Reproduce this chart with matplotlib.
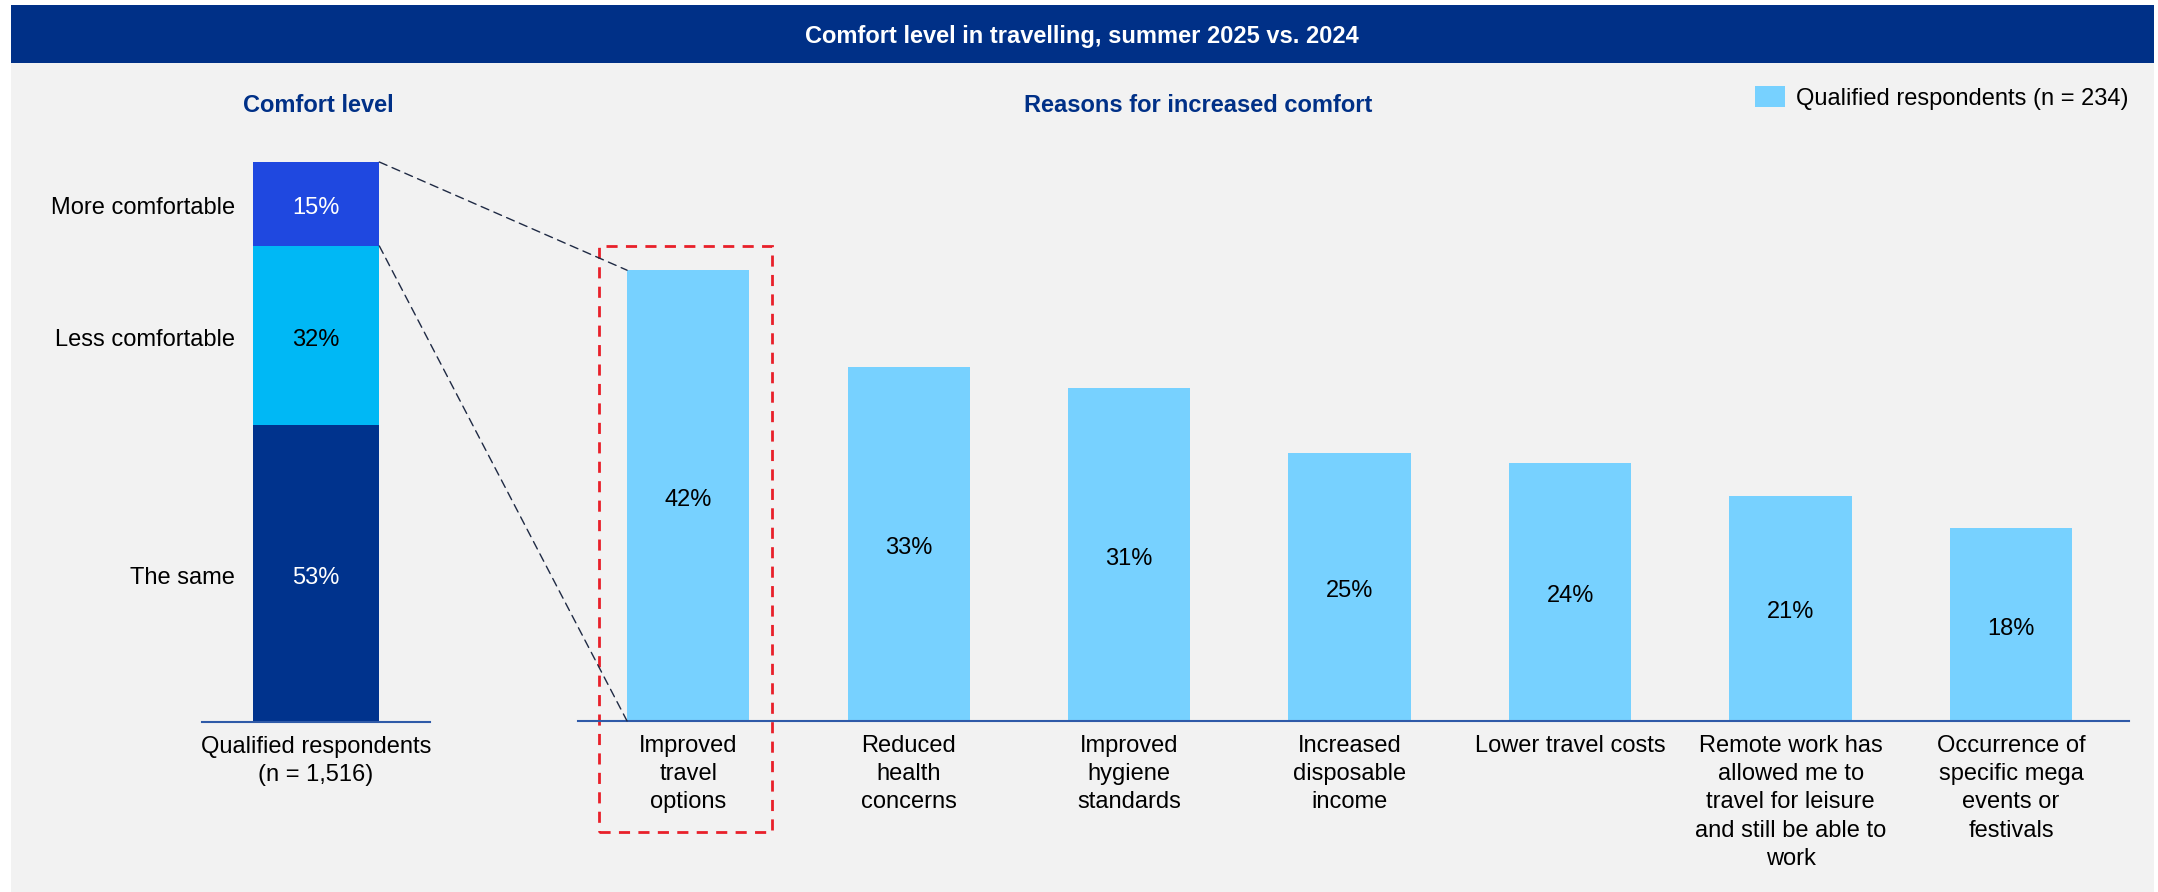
import matplotlib
matplotlib.use("Agg")
import matplotlib.pyplot as plt
from matplotlib.patches import Rectangle, ConnectionPatch

plt.rcParams['font.family'] = ['Liberation Sans', 'DejaVu Sans']

# Comfort level split (stacked, bottom to top)
comfort_levels = ['The same', 'Less comfortable', 'More comfortable']
comfort_values = [53, 32, 15]
comfort_colors = ['#00338D', '#00B8F5', '#1F48E0']
comfort_text_colors = ['white', 'black', 'white']
comfort_base_label = 'Qualified respondents\n(n = 1,516)'

# Reasons for increased comfort
reasons = [
    'Improved\ntravel\noptions',
    'Reduced\nhealth\nconcerns',
    'Improved\nhygiene\nstandards',
    'Increased\ndisposable\nincome',
    'Lower travel costs',
    'Remote work has\nallowed me to\ntravel for leisure\nand still be able to\nwork',
    'Occurrence of\nspecific mega\nevents or\nfestivals',
]
reason_values = [42, 33, 31, 25, 24, 21, 18]
reason_series = 'Qualified respondents (n = 234)'

NAVY = '#003087'
BAR_BLUE = '#77D1FF'
LINE_BLUE = '#2F5AA8'
FS = 17
VA = 'center_baseline'

W, H = 2158, 892
fig = plt.figure(figsize=(W / 100, H / 100), dpi=100, facecolor='white')


def px_box(x0, y0, x1, y1):
    # pixel box (top-left origin) -> figure fraction rect
    return [x0 / W, 1 - y1 / H, (x1 - x0) / W, (y1 - y0) / H]


# background panel and header band (kept behind the axes)
fig.patches.append(Rectangle((11 / W, 0), (2154 - 11) / W, 1 - 63 / H,
                             transform=fig.transFigure, facecolor='#F2F2F2',
                             edgecolor='none', zorder=-2))
fig.patches.append(Rectangle((11 / W, 1 - 63 / H), (2154 - 11) / W, (63 - 5) / H,
                             transform=fig.transFigure, facecolor=NAVY,
                             edgecolor='none', zorder=-2))
fig.text(1082 / W, 1 - 34 / H, 'Comfort level in travelling, summer 2025 vs. 2024',
         color='white', fontsize=FS, fontweight='bold', ha='center', va=VA)
fig.text(318 / W, 1 - 103 / H, 'Comfort level', color=NAVY, fontsize=FS,
         fontweight='bold', ha='center', va=VA)
fig.text(1198 / W, 1 - 103 / H, 'Reasons for increased comfort', color=NAVY,
         fontsize=FS, fontweight='bold', ha='center', va=VA)

# ---- left: stacked comfort bar ----
axl = fig.add_axes(px_box(202, 162, 430, 722))
axl.set_facecolor('none')
bottom = 0
for lvl, val, col, tcol in zip(comfort_levels, comfort_values, comfort_colors, comfort_text_colors):
    axl.bar(0, val, width=1.0, bottom=bottom, color=col, linewidth=0)
    mid = bottom + val / 2
    axl.text(0, mid - 0.3, f'{val}%', ha='center', va=VA, color=tcol, fontsize=FS)
    axl.text(-0.64, mid - 0.3, lvl, ha='right', va=VA, color='black', fontsize=FS)
    bottom += val
axl.set_xlim(-0.9, 0.9)
axl.set_ylim(0, sum(comfort_values))
axl.set_xticks([0], [comfort_base_label], fontsize=FS, linespacing=1.37)
axl.set_yticks([])
axl.tick_params(axis='x', length=0, pad=10)
for s in ['top', 'left', 'right']:
    axl.spines[s].set_visible(False)
axl.spines['bottom'].set_color(LINE_BLUE)
axl.spines['bottom'].set_linewidth(1.5)

# ---- right: reasons bar chart ----
axr = fig.add_axes(px_box(578, 238, 2129, 721))
axr.set_facecolor('none')
xs = list(range(len(reasons)))
bar_w = 0.555
axr.bar(xs, reason_values, width=bar_w, color=BAR_BLUE, linewidth=0, label=reason_series)
for x, v in zip(xs, reason_values):
    axr.text(x, v / 2 - 0.15, f'{v}%', ha='center', va=VA, color='black', fontsize=FS)
axr.set_xlim(-0.5, 6.535)
axr.set_ylim(0, 45)
axr.set_xticks(xs, reasons, fontsize=FS, linespacing=1.37, va='top')
axr.set_yticks([])
axr.tick_params(axis='x', length=0, pad=10)
for s in ['top', 'left', 'right']:
    axr.spines[s].set_visible(False)
axr.spines['bottom'].set_color(LINE_BLUE)
axr.spines['bottom'].set_linewidth(1.5)

# highlight box around the top reason
axr.add_patch(Rectangle((-0.405, -10.3), 0.787, 54.6, fill=False, edgecolor='#E8202A',
                        linestyle=(0, (4, 3)), linewidth=2, clip_on=False))

# connector lines from the "More comfortable" slice to the first reason
top_more = sum(comfort_values)
bottom_more = top_more - comfort_values[-1]
for ya, yb in [(top_more, reason_values[0]), (bottom_more, 0)]:
    con = ConnectionPatch(xyA=(0.5, ya), coordsA=axl.transData,
                          xyB=(-bar_w / 2, yb), coordsB=axr.transData,
                          color='#1F2A44', linestyle=(0, (6, 4)), linewidth=1)
    fig.add_artist(con)

fig.legend(loc='center right', bbox_to_anchor=(2128 / W, 1 - 98 / H), frameon=False,
           fontsize=FS, handlelength=1.27, handleheight=0.97, handletextpad=0.45,
           borderpad=0, borderaxespad=0)

fig.savefig('out.png', dpi=100, facecolor='white')
